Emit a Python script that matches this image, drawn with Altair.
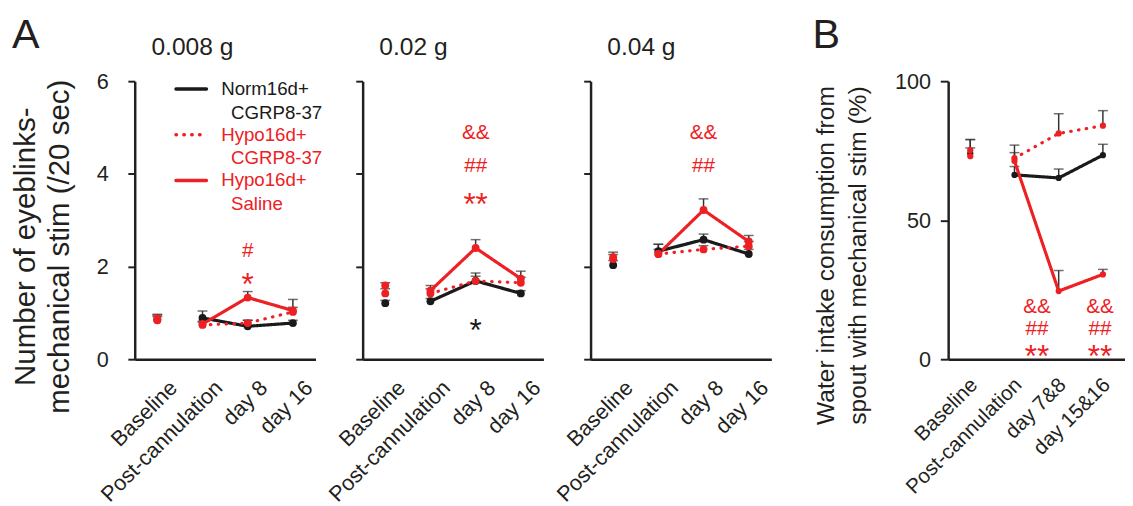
import altair as alt
import pandas as pd

FONT = "Liberation Sans"
RED = "#ed2024"
BLACK = "#1a1a1a"
AXIS = "#231f20"
ERR = "#333333"

cats_a = ["Baseline", "Post-cannulation", "day 8", "day 16"]
cats_b = ["Baseline", "Post-cannulation", "day 7&8", "day 15&16"]
groups = ["Norm16d+CGRP8-37", "Hypo16d+CGRP8-37", "Hypo16d+Saline"]
panel_titles = ["0.008 g", "0.02 g", "0.04 g"]

# ---- A: 0.008 g ----
a1_norm = [0.85, 0.89, 0.71, 0.78]
a1_norm_err = [0.10, 0.15, 0.13, 0.06]
a1_cgrp = [0.84, 0.74, 0.78, 1.02]
a1_cgrp_err = [0.08, 0.06, 0.06, 0.10]
a1_sal = [0.88, 0.76, 1.33, 1.05]
a1_sal_err = [0.09, 0.06, 0.13, 0.24]
a1_ann_cat = ["day 8", "day 8"]
a1_ann_y = [2.33, 1.76]
a1_ann_sym = ["#", "*"]
a1_ann_grp = ["Hypo16d+Saline", "Hypo16d+Saline"]

# ---- A: 0.02 g ----
a2_norm = [1.21, 1.25, 1.69, 1.42]
a2_norm_err = [0.06, 0.06, 0.17, 0.06]
a2_cgrp = [1.42, 1.42, 1.69, 1.65]
a2_cgrp_err = [0.10, 0.10, 0.10, 0.12]
a2_sal = [1.59, 1.48, 2.40, 1.74]
a2_sal_err = [0.06, 0.11, 0.18, 0.16]
a2_ann_cat = ["day 8", "day 8", "day 8", "day 8"]
a2_ann_y = [4.87, 4.17, 3.50, 0.78]
a2_ann_sym = ["&&", "##", "**", "*"]
a2_ann_grp = ["Hypo16d+Saline", "Hypo16d+Saline", "Hypo16d+Saline", "Norm16d+CGRP8-37"]

# ---- A: 0.04 g ----
a3_norm = [2.03, 2.33, 2.58, 2.27]
a3_norm_err = [0.10, 0.15, 0.12, 0.10]
a3_cgrp = [2.16, 2.27, 2.37, 2.44]
a3_cgrp_err = [0.10, 0.10, 0.08, 0.10]
a3_sal = [2.20, 2.27, 3.22, 2.54]
a3_sal_err = [0.11, 0.21, 0.24, 0.13]
a3_ann_cat = ["day 8", "day 8"]
a3_ann_y = [4.87, 4.17]
a3_ann_sym = ["&&", "##"]
a3_ann_grp = ["Hypo16d+Saline", "Hypo16d+Saline"]

# ---- B: water intake (%) ----
b_norm = [74.0, 66.3, 65.2, 73.4]
b_norm_err = [5.0, 3.0, 3.2, 3.9]
b_cgrp = [75.2, 72.3, 81.2, 84.0]
b_cgrp_err = [3.8, 4.7, 7.1, 5.4]
b_sal = [73.0, 71.3, 24.5, 30.5]
b_sal_err = [3.0, 3.0, 7.4, 1.8]
b_ann_cat = ["day 7&8"] * 3 + ["day 15&16"] * 3
b_ann_y = [18.8, 11.0, 3.5, 18.8, 11.0, 3.5]
b_ann_sym = ["&&", "##", "**", "&&", "##", "**"]
b_ann_grp = ["Hypo16d+Saline"] * 6

legend_line1 = ["Norm16d+", "Hypo16d+", "Hypo16d+"]
legend_line2 = ["CGRP8-37", "CGRP8-37", "Saline"]


def build_df(cats, vals_list, err_list):
    rows = []
    for g, vals, errs in zip(groups, vals_list, err_list):
        for c, v, e in zip(cats, vals, errs):
            rows.append({"cat": c, "group": g, "value": v, "hi": v + e})
    return pd.DataFrame(rows)


color_scale = alt.Scale(domain=groups, range=[BLACK, RED, RED])
dash_scale = alt.Scale(domain=groups, range=[[1, 0], [0.5, 7.5], [1, 0]])


def panel(cats, vals_list, err_list, ann, ymax, yaxis, xaxis, pt_size, ann_dx=None, extra=()):
    df = build_df(cats, vals_list, err_list)
    xs = alt.Scale(type="point", domain=cats, padding=0.5)
    ys = alt.Scale(domain=[0, ymax], nice=False, zero=True)
    x = alt.X("cat:N", sort=cats, scale=xs, axis=xaxis)
    y = alt.Y("value:Q", scale=ys, axis=yaxis)
    color = alt.Color("group:N", scale=color_scale, legend=None)
    base = alt.Chart(df)
    err_rule = base.mark_rule(color=ERR, strokeWidth=1.5).encode(x=x, y=y, y2="hi:Q")
    err_cap = base.mark_tick(color=ERR, thickness=1.5, size=10).encode(
        x=x, y=alt.Y("hi:Q", scale=ys, axis=yaxis))
    lines = base.transform_filter(alt.datum.cat != "Baseline").mark_line(
        strokeWidth=3.2, strokeCap="round").encode(
        x=x, y=y, color=color, detail="group:N",
        strokeDash=alt.StrokeDash("group:N", scale=dash_scale, legend=None))
    pts = base.mark_circle(size=pt_size, opacity=1).encode(x=x, y=y, color=color)

    adf = pd.DataFrame({"cat": ann[0], "y": ann[1], "sym": ann[2], "group": ann[3]})
    layers = [err_rule, err_cap, lines, pts]
    ay = alt.Y("y:Q", scale=ys, axis=yaxis)
    cat_groups = [(None, 0)] if ann_dx is None else list(ann_dx.items())
    for cat, dx in cat_groups:
        a = alt.Chart(adf)
        if cat is not None:
            a = a.transform_filter(alt.datum.cat == cat)
        small = a.transform_filter("indexof(datum.sym, '*') < 0").mark_text(
            fontSize=21, baseline="middle", dx=dx, font=FONT).encode(
            x=x, y=ay, text="sym:N", color=color)
        big = a.transform_filter("indexof(datum.sym, '*') >= 0").mark_text(
            fontSize=32, baseline="middle", dx=dx, dy=8, font=FONT).encode(
            x=x, y=ay, text="sym:N", color=color)
        layers += [small, big]
    layers += list(extra)
    return alt.layer(*layers)


def label_text(t, px, py, size):
    return alt.Chart(pd.DataFrame({"t": [t]})).mark_text(
        fontSize=size, align="left", baseline="alphabetic", font=FONT, color=AXIS).encode(
        text="t:N", x=alt.value(px), y=alt.value(py))


def legend_layers():
    out = []
    cols = [BLACK, RED, RED]
    dashes = [[1, 0], [0.5, 7.5], [1, 0]]
    for i in range(3):
        yy = 8 + 46.5 * i
        d = pd.DataFrame({"a": [legend_line1[i]], "b": [legend_line2[i]]})
        c = alt.Chart(d)
        out.append(c.mark_rule(color=cols[i], strokeWidth=3.5, strokeDash=dashes[i], strokeCap="round").encode(
            x=alt.value(42), x2=alt.value(73), y=alt.value(yy)))
        out.append(c.mark_text(align="left", baseline="middle", fontSize=19, font=FONT, color=cols[i]).encode(
            text="a:N", x=alt.value(88), y=alt.value(yy)))
        out.append(c.mark_text(align="left", baseline="middle", fontSize=19, font=FONT, color=cols[i]).encode(
            text="b:N", x=alt.value(98), y=alt.value(yy + 24)))
    return out


common_axis = dict(domainColor=AXIS, domainWidth=2.5, tickColor=AXIS, labelColor=AXIS,
                   labelFont=FONT, titleFont=FONT, titleColor=AXIS, grid=False)

xaxis_a = alt.Axis(title=None, labelAngle=-45, labelAlign="right", labelBaseline="top",
                   labelFontSize=22, labelOffset=9, labelPadding=18, ticks=False, tickSize=0,
                   labelOverlap=False, labelLimit=400, **common_axis)
xaxis_b = alt.Axis(title=None, labelAngle=-45, labelAlign="right", labelBaseline="top",
                   labelFontSize=21, labelOffset=-4, labelPadding=15, ticks=False, tickSize=0,
                   labelOverlap=False, labelLimit=400, **common_axis)

yaxis_a1 = alt.Axis(values=[0, 2, 4, 6], title=["Number of eyeblinks-", "mechanical stim (/20 sec)"],
                    titleFontSize=30, titleFontWeight="normal", titleLineHeight=35,
                    titleX=-111, titleY=168, titleAngle=270, titleAlign="center", titleBaseline="middle",
                    labelFontSize=22, labelPadding=20, tickSize=7, tickWidth=2, **common_axis)
yaxis_an = alt.Axis(values=[0, 2, 4, 6], title=None, labels=False, tickSize=7, tickWidth=2, **common_axis)
yaxis_b = alt.Axis(values=[0, 50, 100], title=["Water intake consumption from", "spout with mechanical stim  (%)"],
                   titleFontSize=25, titleFontWeight="normal", titleLineHeight=33,
                   titleX=-125, titleY=177, titleAngle=270, titleAlign="center", titleBaseline="middle",
                   labelFontSize=22, labelPadding=10, tickSize=8, tickWidth=2, **common_axis)

W, H = 184, 283
p1 = panel(cats_a, [a1_norm, a1_cgrp, a1_sal], [a1_norm_err, a1_cgrp_err, a1_sal_err],
           (a1_ann_cat, a1_ann_y, a1_ann_sym, a1_ann_grp), 6, yaxis_a1, xaxis_a, 64,
           extra=legend_layers() + [label_text("A", -125, -34, 42),
                                    label_text(panel_titles[0], 17, -27, 25)]
           ).properties(width=W, height=H)
p2 = panel(cats_a, [a2_norm, a2_cgrp, a2_sal], [a2_norm_err, a2_cgrp_err, a2_sal_err],
           (a2_ann_cat, a2_ann_y, a2_ann_sym, a2_ann_grp), 6, yaxis_an, xaxis_a, 64,
           extra=[label_text(panel_titles[1], 17, -27, 25)]
           ).properties(width=W, height=H)
p3 = panel(cats_a, [a3_norm, a3_cgrp, a3_sal], [a3_norm_err, a3_cgrp_err, a3_sal_err],
           (a3_ann_cat, a3_ann_y, a3_ann_sym, a3_ann_grp), 6, yaxis_an, xaxis_a, 64,
           extra=[label_text(panel_titles[2], 17, -27, 25)]
           ).properties(width=W, height=H)
pB = panel(cats_b, [b_norm, b_cgrp, b_sal], [b_norm_err, b_cgrp_err, b_sal_err],
           (b_ann_cat, b_ann_y, b_ann_sym, b_ann_grp), 100, yaxis_b, xaxis_b, 40,
           ann_dx={"day 7&8": -22, "day 15&16": -3},
           extra=[label_text("B", -138, -34, 42)]).properties(width=180, height=H)

spacer = alt.Chart(pd.DataFrame({"a": [0]})).mark_point(opacity=0).properties(width=84, height=H)

chart = alt.hconcat(p1, p2, p3, spacer, pB, spacing=48, bounds="flush").properties(
    padding={"left": 3, "top": 2, "right": 0, "bottom": 0}
).configure(font=FONT).configure_view(stroke=None)

chart.save("out.html", embed_options={"renderer": "svg", "actions": False})
